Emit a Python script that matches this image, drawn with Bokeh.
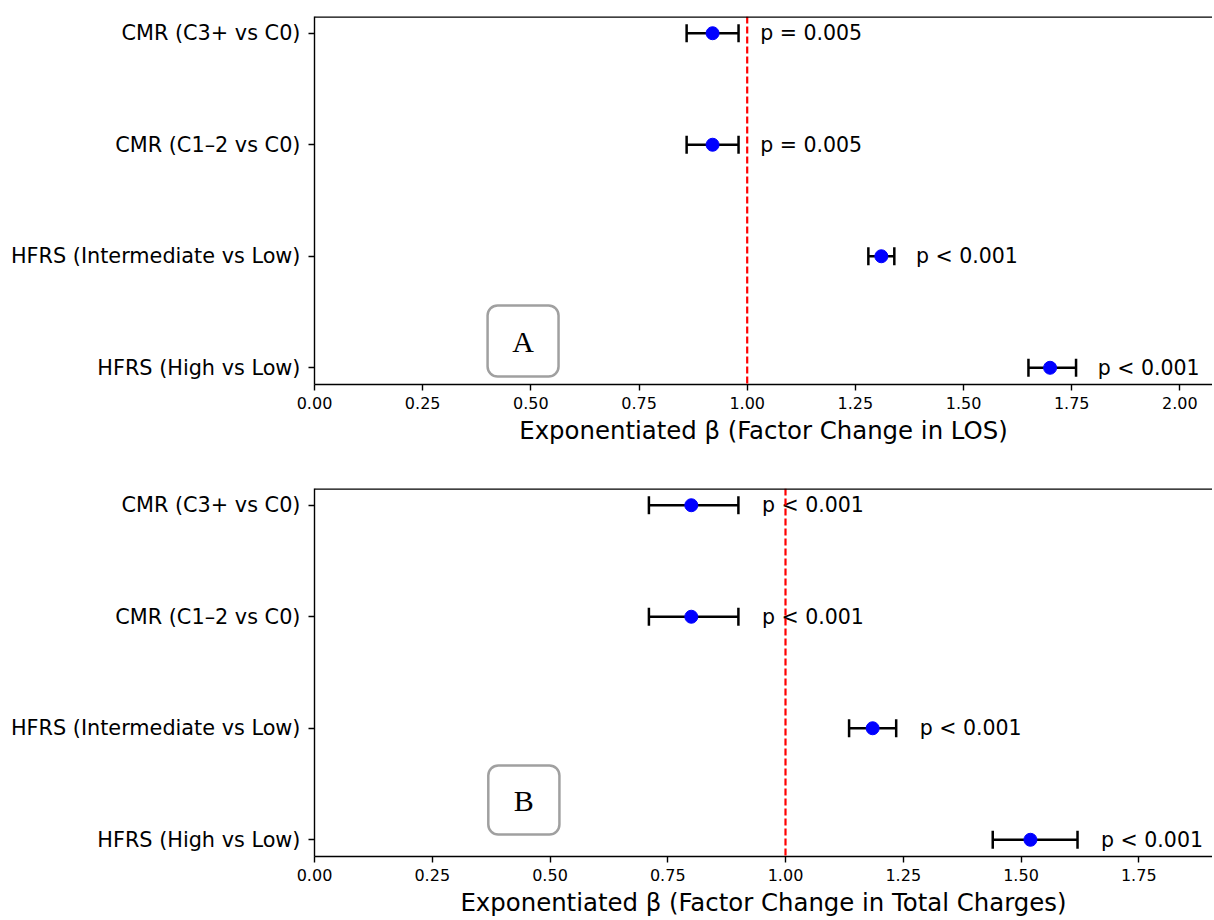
import math
from bokeh.plotting import figure
from bokeh.models import (Span, FixedTicker, NumeralTickFormatter, Range1d,
                          BoxAnnotation, Label, ColumnDataSource)
from bokeh.layouts import column
from bokeh.core.properties import value
from bokeh.embed import file_html
from bokeh.resources import INLINE

# ---------------- data ----------------
categories = ["CMR (C3+ vs C0)", "CMR (C1\u20132 vs C0)",
              "HFRS (Intermediate vs Low)", "HFRS (High vs Low)"]

los_est = [0.92, 0.92, 1.31, 1.70]
los_lo = [0.86, 0.86, 1.28, 1.65]
los_hi = [0.98, 0.98, 1.34, 1.76]
los_p = ["p = 0.005", "p = 0.005", "p < 0.001", "p < 0.001"]

chg_est = [0.80, 0.80, 1.185, 1.52]
chg_lo = [0.71, 0.71, 1.135, 1.44]
chg_hi = [0.90, 0.90, 1.235, 1.62]
chg_p = ["p < 0.001", "p < 0.001", "p < 0.001", "p < 0.001"]

xticks_los = [0.0, 0.25, 0.5, 0.75, 1.0, 1.25, 1.5, 1.75, 2.0]
xticks_chg = [0.0, 0.25, 0.5, 0.75, 1.0, 1.25, 1.5, 1.75]

FONT = "DejaVu Sans"
n = len(categories)
ypos = [n - 1 - i for i in range(n)]
Y0, Y1 = -0.15, n - 1 + 0.15
FRAME_W = 898
FRAME_H = 368


def make_panel(est, lo, hi, pvals, xticks, px_per_unit, xtitle, box, letter,
               top_border, bottom_border):
    p = figure(frame_width=FRAME_W, frame_height=FRAME_H,
               x_range=Range1d(0, FRAME_W / px_per_unit),
               y_range=Range1d(Y0, Y1),
               output_backend="svg", toolbar_location=None,
               min_border_left=314, min_border_right=0,
               min_border_top=top_border, min_border_bottom=bottom_border)
    p.xgrid.visible = False
    p.ygrid.visible = False
    p.outline_line_color = None
    p.background_fill_color = "white"
    p.border_fill_color = "white"

    src = ColumnDataSource(dict(y=ypos, est=est, lo=lo, hi=hi, p=pvals,
                                tx=[h + 0.05 for h in hi]))

    # reference line at 1
    p.add_layout(Span(location=1.0, dimension="height", line_color="red",
                      line_dash="7 3", line_width=2.2))
    # top frame border
    p.add_layout(Span(location=Y1, dimension="width", line_color="black",
                      line_width=2.6))

    # error bars
    p.segment(x0="lo", y0="y", x1="hi", y1="y", source=src,
              line_color="black", line_width=2.5)
    p.scatter(x="lo", y="y", source=src, marker="dash", angle=math.pi / 2,
              size=18, line_color="black", line_width=2.5)
    p.scatter(x="hi", y="y", source=src, marker="dash", angle=math.pi / 2,
              size=18, line_color="black", line_width=2.5)
    # points
    p.scatter(x="est", y="y", source=src, size=13, fill_color="#0000ff",
              line_color="#0000ff")
    # p-value text
    p.text(x="tx", y="y", text="p", source=src, text_font=value(FONT),
           text_font_size="20.5px", text_baseline="middle", text_align="left",
           text_color="black")

    # panel letter box
    l, r, b, t = box
    p.add_layout(BoxAnnotation(left=l, right=r, bottom=b, top=t,
                               fill_color="white", fill_alpha=1.0,
                               line_color="#a0a0a0", line_alpha=1.0,
                               line_width=2.5, border_radius=10))
    p.add_layout(Label(x=(l + r) / 2, y=(b + t) / 2, text=letter,
                       text_font="Liberation Serif", text_font_size="30px",
                       text_align="center", text_baseline="middle",
                       text_color="black"))

    # axes
    p.xaxis.ticker = FixedTicker(ticks=xticks)
    p.xaxis.formatter = NumeralTickFormatter(format="0.00")
    p.xaxis.axis_label = xtitle
    p.xaxis.axis_label_text_font = FONT
    p.xaxis.axis_label_text_font_size = "24.4px"
    p.xaxis.axis_label_text_font_style = "normal"
    p.xaxis.axis_label_text_color = "black"
    p.xaxis.axis_label_standoff = 4
    p.xaxis.major_label_text_font = FONT
    p.xaxis.major_label_text_font_size = "16px"
    p.xaxis.major_label_text_color = "black"
    p.xaxis.major_label_standoff = 6

    p.yaxis.ticker = FixedTicker(ticks=ypos)
    p.yaxis.major_label_overrides = {yv: c for yv, c in zip(ypos, categories)}
    p.yaxis.major_label_text_font = FONT
    p.yaxis.major_label_text_font_size = "20.8px"
    p.yaxis.major_label_text_color = "black"
    p.yaxis.major_label_standoff = 8

    for ax in (p.xaxis, p.yaxis):
        ax.axis_line_color = "black"
        ax.axis_line_width = 1.4
        ax.major_tick_line_color = "black"
        ax.major_tick_line_width = 1.4
        ax.major_tick_in = 0
        ax.major_tick_out = 6
        ax.minor_tick_line_color = None
    return p


pA = make_panel(los_est, los_lo, los_hi, los_p, xticks_los, 432.7,
                "Exponentiated \u03b2 (Factor Change in LOS)",
                (0.400, 0.564, -0.078, 0.558), "A", 16, 96)
pB = make_panel(chg_est, chg_lo, chg_hi, chg_p, xticks_chg, 471.0,
                "Exponentiated \u03b2 (Factor Change in Total Charges)",
                (0.369, 0.520, 0.047, 0.666), "B", 8, 0)

layout = column(pA, pB)
open("out.html", "w").write(file_html(layout, INLINE))
